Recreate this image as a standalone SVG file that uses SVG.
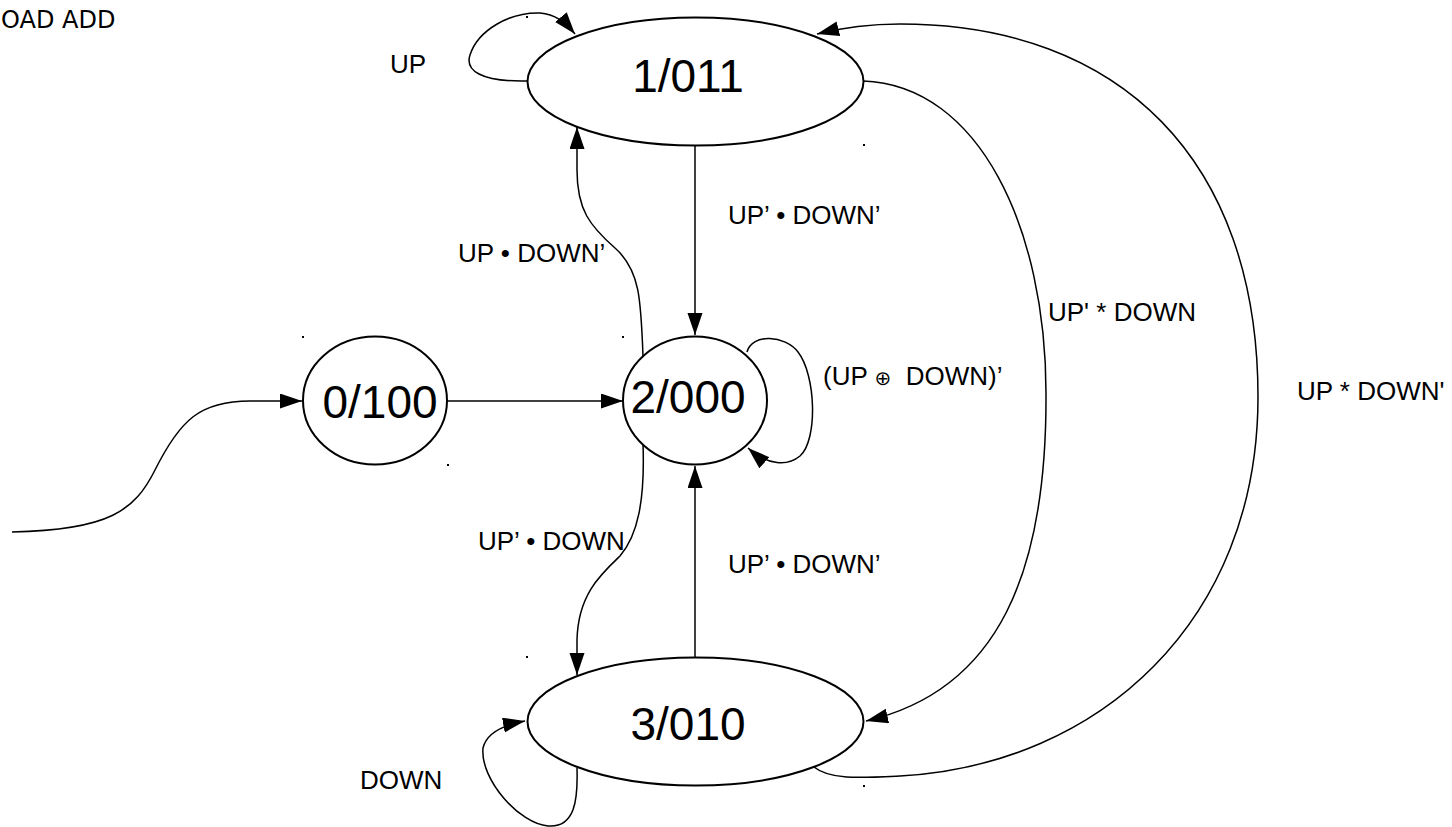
<svg xmlns="http://www.w3.org/2000/svg" width="1452" height="827" viewBox="0 0 1452 827">
  <style>
    .state { fill: #ffffff; stroke: #000000; stroke-width: 2; }
    .state-label { font-family: "Liberation Sans", Arial, sans-serif; font-size: 46px; fill: #000000; }
    .edge { fill: none; stroke: #000000; stroke-width: 1.5; marker-end: url(#arrow); }
    .edge-label { font-family: "Liberation Sans", Arial, "DejaVu Sans", sans-serif; font-size: 26px; fill: #000000; }
    .title { font-family: "DejaVu Sans", sans-serif; font-size: 24px; fill: #000000; }
    .anchor { fill: #000000; }
  </style>
  <defs>
    <marker id="arrow" markerUnits="userSpaceOnUse" markerWidth="24" markerHeight="16" refX="22" refY="7.5" orient="auto">
      <path d="M0,0 L22,7.5 L0,15 Z" fill="#000000"/>
    </marker>
  </defs>

  <rect width="1452" height="827" fill="#ffffff"/>

  <text class="title" x="1" y="28">OAD ADD</text>

  <!-- transitions -->
  <g id="connectors">
    <!-- reset entry into state 0 -->
    <path class="edge" d="M12,532 C110,530 135,510 155,470 C180,420 200,401 250,401 L302,401"/>
    <!-- 0 -> 2 -->
    <path class="edge" d="M447,401 L623,401"/>
    <!-- 1 -> 2 -->
    <path class="edge" d="M695,145 L695,335"/>
    <!-- 2 -> 1 -->
    <path class="edge" d="M643,356 C641,300 640,270 615,248 C590,226 577,210 577,170 L577,127"/>
    <!-- 2 -> 3 -->
    <path class="edge" d="M643,444 C645,500 638,535 620,556 C600,575 578,595 577,640 L577,675"/>
    <!-- 3 -> 2 -->
    <path class="edge" d="M695,657 L695,466"/>
    <!-- 1 self loop -->
    <path class="edge" d="M527,81 C480,82 465,70 470,55 C478,30 510,12 540,13 C555,14 565,22 575,34"/>
    <!-- 2 self loop -->
    <path class="edge" d="M747,352 C752,333 785,335 798,352 C816,375 818,440 800,456 C788,466 768,466 748,448"/>
    <!-- 3 self loop -->
    <path class="edge" d="M577,768 C578,800 575,828 548,826 C520,824 480,780 483,748 C486,735 498,726 525,721"/>
    <!-- 1 -> 3 -->
    <path class="edge" d="M863,81 C980,85 1046,230 1046,393 C1047,570 1000,690 866,721"/>
    <!-- 3 -> 1 -->
    <path class="edge" d="M814,767 C830,780 860,778 900,776 C1100,765 1258,620 1258,397 C1258,160 1120,24 900,24 C870,24 845,27 817,34"/>
  </g>

  <!-- transition labels -->
  <g id="labels">
    <text class="edge-label" x="390" y="73">UP</text>
    <text class="edge-label" x="728" y="224">UP’ • DOWN’</text>
    <text class="edge-label" x="458" y="262">UP • DOWN’</text>
    <text class="edge-label" x="478" y="550">UP’ • DOWN</text>
    <text class="edge-label" x="728" y="573">UP’ • DOWN’</text>
    <text class="edge-label" x="823" y="385">(UP <tspan font-size="20">⊕</tspan> &#160;DOWN)’</text>
    <text class="edge-label" x="1048" y="321">UP' * DOWN</text>
    <text class="edge-label" x="1297" y="400">UP * DOWN'</text>
    <text class="edge-label" x="360" y="789">DOWN</text>
  </g>

  <!-- states -->
  <g id="state-1">
    <ellipse class="state" cx="695.5" cy="81.5" rx="168" ry="64"/>
    <text class="state-label" x="688" y="92" text-anchor="middle">1/011</text>
  </g>
  <g id="state-0">
    <ellipse class="state" cx="375" cy="400.5" rx="72" ry="64"/>
    <text class="state-label" x="380" y="418" text-anchor="middle">0/100</text>
  </g>
  <g id="state-2">
    <ellipse class="state" cx="695" cy="400.5" rx="72" ry="64"/>
    <text class="state-label" x="688" y="413" text-anchor="middle">2/000</text>
  </g>
  <g id="state-3">
    <ellipse class="state" cx="695.5" cy="721.5" rx="168" ry="64"/>
    <text class="state-label" x="688" y="740" text-anchor="middle">3/010</text>
  </g>

  <!-- bounding-box anchor marks -->
  <g id="anchors">
    <rect class="anchor" x="526" y="16" width="2" height="2"/>
    <rect class="anchor" x="863" y="144" width="2" height="2"/>
    <rect class="anchor" x="302" y="336" width="2" height="2"/>
    <rect class="anchor" x="447" y="464" width="2" height="2"/>
    <rect class="anchor" x="622" y="336" width="2" height="2"/>
    <rect class="anchor" x="526" y="656" width="2" height="2"/>
    <rect class="anchor" x="863" y="785" width="2" height="2"/>
  </g>
</svg>
